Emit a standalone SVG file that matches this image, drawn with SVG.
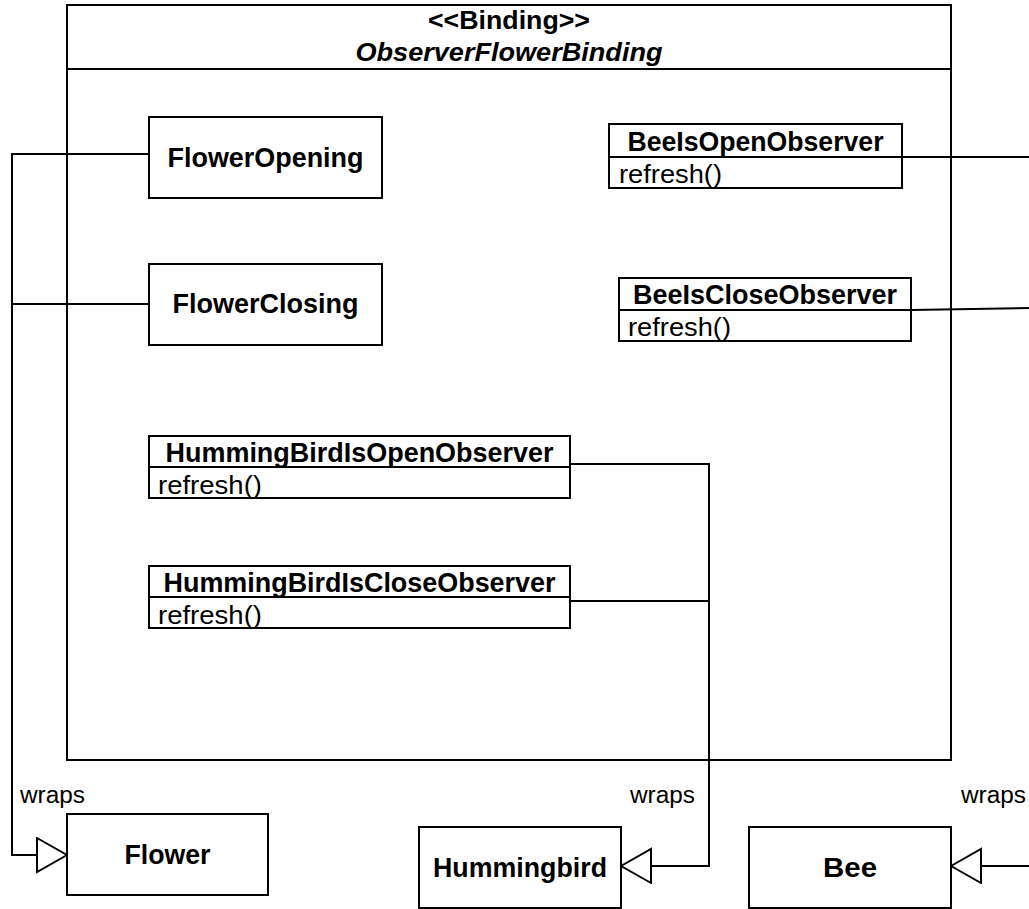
<svg xmlns="http://www.w3.org/2000/svg" width="1029" height="909" viewBox="0 0 1029 909">
  <style>
    .box { fill: #ffffff; stroke: #000000; stroke-width: 2; }
    .sep { stroke: #000000; stroke-width: 2; fill: none; }
    .wire { stroke: #000000; stroke-width: 2; fill: none; }
    .name { font-family: "Liberation Sans", Arial, sans-serif; font-weight: bold; font-size: 27px; fill: #000000; }
    .oper { font-family: "Liberation Sans", Arial, sans-serif; font-size: 26px; fill: #000000; }
    .lbl { font-family: "Liberation Sans", Arial, sans-serif; font-size: 23px; fill: #000000; }
    .title { font-family: "Liberation Sans", Arial, sans-serif; font-weight: bold; font-size: 26px; fill: #000000; }
  </style>
  <defs>
    <!-- hollow triangle head for the "wraps" realisation -->
    <marker id="hollow" markerUnits="userSpaceOnUse" markerWidth="32" markerHeight="38" viewBox="-1 -1 32 38" refX="30" refY="17" orient="auto">
      <path d="M0,0 L30,17 L0,34 Z" fill="#ffffff" stroke="#000000" stroke-width="2"/>
    </marker>
  </defs>

  <rect width="1029" height="909" fill="#ffffff"/>

  <!-- binding container -->
  <g id="ObserverFlowerBinding">
    <rect class="box" x="67" y="5" width="884" height="755"/>
    <line class="sep" x1="67" y1="69" x2="951" y2="69"/>
    <text class="title" x="509" y="29" text-anchor="middle" textLength="162" lengthAdjust="spacingAndGlyphs">&lt;&lt;Binding&gt;&gt;</text>
    <text class="title" x="509" y="61" text-anchor="middle" font-style="italic" textLength="307" lengthAdjust="spacingAndGlyphs">ObserverFlowerBinding</text>
  </g>

  <!-- connectors -->
  <g id="connectors">
    <path class="wire" d="M149,154 H12 V855 H67" marker-end="url(#hollow)"/>
    <path class="wire" d="M149,304 H12"/>
    <path class="wire" d="M570,464 H709 V866 H621" marker-end="url(#hollow)"/>
    <path class="wire" d="M570,601 H709"/>
    <path class="wire" d="M902,157 H1029"/>
    <path class="wire" d="M911,310 L1029,308"/>
    <path class="wire" d="M1029,866 H951" marker-end="url(#hollow)"/>
  </g>

  <g id="FlowerOpening">
    <rect class="box" x="149" y="117" width="233" height="81"/>
    <text class="name" x="265.5" y="167" text-anchor="middle" textLength="196" lengthAdjust="spacingAndGlyphs">FlowerOpening</text>
  </g>

  <g id="FlowerClosing">
    <rect class="box" x="149" y="264" width="233" height="81"/>
    <text class="name" x="265.5" y="313" text-anchor="middle" textLength="186" lengthAdjust="spacingAndGlyphs">FlowerClosing</text>
  </g>

  <g id="BeeIsOpenObserver">
    <rect class="box" x="609" y="124" width="293" height="64"/>
    <line class="sep" x1="609" y1="157" x2="902" y2="157"/>
    <text class="name" x="755.5" y="151" text-anchor="middle" textLength="256" lengthAdjust="spacingAndGlyphs">BeeIsOpenObserver</text>
    <text class="oper" x="619" y="183" textLength="103" lengthAdjust="spacingAndGlyphs">refresh()</text>
  </g>

  <g id="BeeIsCloseObserver">
    <rect class="box" x="619" y="278" width="292" height="63"/>
    <line class="sep" x1="619" y1="310" x2="911" y2="310"/>
    <text class="name" x="765" y="304" text-anchor="middle" textLength="264" lengthAdjust="spacingAndGlyphs">BeeIsCloseObserver</text>
    <text class="oper" x="628" y="336" textLength="103" lengthAdjust="spacingAndGlyphs">refresh()</text>
  </g>

  <g id="HummingBirdIsOpenObserver">
    <rect class="box" x="149" y="436" width="421" height="62"/>
    <line class="sep" x1="149" y1="467" x2="570" y2="467"/>
    <text class="name" x="359.5" y="462" text-anchor="middle" textLength="388" lengthAdjust="spacingAndGlyphs">HummingBirdIsOpenObserver</text>
    <text class="oper" x="158" y="494" textLength="104" lengthAdjust="spacingAndGlyphs">refresh()</text>
  </g>

  <g id="HummingBirdIsCloseObserver">
    <rect class="box" x="149" y="566" width="421" height="62"/>
    <line class="sep" x1="149" y1="597" x2="570" y2="597"/>
    <text class="name" x="359.5" y="592" text-anchor="middle" textLength="392" lengthAdjust="spacingAndGlyphs">HummingBirdIsCloseObserver</text>
    <text class="oper" x="158" y="624" textLength="104" lengthAdjust="spacingAndGlyphs">refresh()</text>
  </g>

  <g id="Flower">
    <rect class="box" x="67" y="814" width="201" height="81"/>
    <text class="name" x="167.5" y="864" text-anchor="middle" textLength="86" lengthAdjust="spacingAndGlyphs">Flower</text>
  </g>

  <g id="Hummingbird">
    <rect class="box" x="419" y="827" width="202" height="81"/>
    <text class="name" x="520" y="877" text-anchor="middle" textLength="174" lengthAdjust="spacingAndGlyphs">Hummingbird</text>
  </g>

  <g id="Bee">
    <rect class="box" x="749" y="827" width="202" height="81"/>
    <text class="name" x="850" y="877" text-anchor="middle" textLength="54" lengthAdjust="spacingAndGlyphs">Bee</text>
  </g>

  <!-- relation labels -->
  <g id="labels">
    <text class="lbl" x="20" y="803" textLength="65" lengthAdjust="spacingAndGlyphs">wraps</text>
    <text class="lbl" x="630" y="803" textLength="65" lengthAdjust="spacingAndGlyphs">wraps</text>
    <text class="lbl" x="961" y="803" textLength="65" lengthAdjust="spacingAndGlyphs">wraps</text>
  </g>
</svg>
